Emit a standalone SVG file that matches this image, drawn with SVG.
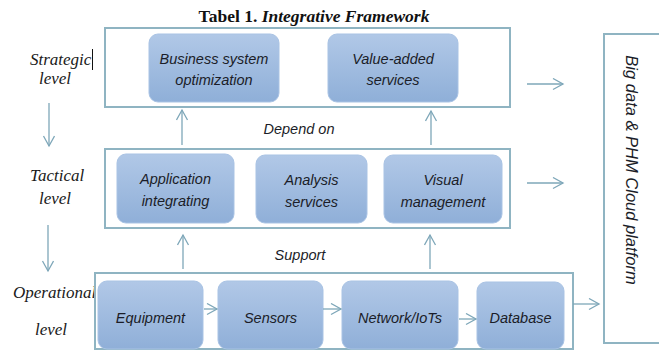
<svg xmlns="http://www.w3.org/2000/svg" width="659" height="351" viewBox="0 0 659 351">
  <defs>
    <linearGradient id="nodeFill" x1="0" y1="0" x2="0" y2="1">
      <stop offset="0" stop-color="#b1c8e7"/>
      <stop offset="1" stop-color="#8fafd8"/>
    </linearGradient>
    <marker id="arrow" markerUnits="userSpaceOnUse" markerWidth="14" markerHeight="14" refX="11" refY="6" orient="auto">
      <path d="M1,0.5 L11,6 L1,11.5" fill="none" stroke="#7ea7b9" stroke-width="1.3"/>
    </marker>
    <style>
      .frame { fill: #ffffff; stroke: #8fb4c2; stroke-width: 2; }
      .node rect { fill: url(#nodeFill); stroke: #a9c3e4; stroke-width: 1; }
      .node text, .tag { font-family: "Liberation Sans", Arial, sans-serif; font-style: italic; font-size: 14.5px; fill: #1b1d28; text-anchor: middle; }
      .tag.vertical { font-size: 16.5px; }
      .level { font-family: "Liberation Serif", "Times New Roman", serif; font-style: italic; font-size: 17px; fill: #1a1a1a; }
      .title { font-family: "Liberation Serif", "Times New Roman", serif; font-weight: bold; font-size: 17.5px; fill: #111111; }
      #connectors line { stroke: #7ea7b9; stroke-width: 1.3; marker-end: url(#arrow); }
    </style>
  </defs>

  <rect width="659" height="351" fill="#ffffff"/>

  <!-- heading -->
  <text class="title" x="314" y="22" text-anchor="middle">Tabel 1. <tspan font-style="italic">Integrative Framework</tspan></text>

  <!-- level labels on the left -->
  <text class="level" x="30" y="65">Strategic</text>
  <line x1="92.5" y1="49" x2="92.5" y2="70" stroke="#111111" stroke-width="1"/>
  <text class="level" x="39" y="84">level</text>
  <text class="level" x="30" y="181">Tactical</text>
  <text class="level" x="39" y="204">level</text>
  <text class="level" x="13" y="298">Operational</text>
  <text class="level" x="35" y="335">level</text>

  <!-- layer frames -->
  <rect id="strategic-layer" class="frame" x="105" y="28" width="405" height="79"/>
  <rect id="tactical-layer" class="frame" x="105" y="149" width="405" height="79"/>
  <rect id="operational-layer" class="frame" x="95" y="273" width="478" height="76"/>

  <g id="cloud-platform">
    <rect class="frame" x="604" y="34" width="70" height="309"/>
    <text class="tag vertical" x="0" y="0" transform="translate(626 170) rotate(90)">Big data &amp; PHM Cloud platform</text>
  </g>

  <!-- strategic nodes -->
  <g id="business-optimization" class="node">
    <rect x="149" y="34" width="130" height="68" rx="9"/>
    <text x="214" y="64">Business system</text>
    <text x="214" y="85">optimization</text>
  </g>
  <g id="value-added-services" class="node">
    <rect x="328" y="34" width="130" height="68" rx="9"/>
    <text x="393" y="64">Value-added</text>
    <text x="393" y="85">services</text>
  </g>

  <!-- tactical nodes -->
  <g id="application-integrating" class="node">
    <rect x="117" y="154" width="117" height="69" rx="9"/>
    <text x="175.5" y="184">Application</text>
    <text x="175.5" y="206">integrating</text>
  </g>
  <g id="analysis-services" class="node">
    <rect x="256" y="155" width="111" height="68" rx="9"/>
    <text x="311.5" y="185">Analysis</text>
    <text x="311.5" y="207">services</text>
  </g>
  <g id="visual-management" class="node">
    <rect x="384" y="155" width="118" height="68" rx="9"/>
    <text x="443" y="185">Visual</text>
    <text x="443" y="207">management</text>
  </g>

  <!-- operational nodes -->
  <g id="equipment" class="node">
    <rect x="98" y="281" width="105" height="68" rx="9"/>
    <text x="150.5" y="323">Equipment</text>
  </g>
  <g id="sensors" class="node">
    <rect x="218" y="281" width="105" height="68" rx="9"/>
    <text x="270.5" y="323">Sensors</text>
  </g>
  <g id="network-iots" class="node">
    <rect x="342" y="281" width="116" height="68" rx="9"/>
    <text x="400" y="323">Network/IoTs</text>
  </g>
  <g id="database" class="node">
    <rect x="477" y="282" width="87" height="67" rx="9"/>
    <text x="520.5" y="323">Database</text>
  </g>

  <!-- relation labels -->
  <text class="tag" x="299" y="134">Depend on</text>
  <text class="tag" x="300" y="260">Support</text>

  <g id="connectors">
    <line x1="49" y1="103" x2="49" y2="146"/>
    <line x1="48" y1="225" x2="48" y2="271"/>
    <line x1="182" y1="145" x2="182" y2="110"/>
    <line x1="431" y1="145" x2="431" y2="111"/>
    <line x1="183" y1="269" x2="183" y2="235"/>
    <line x1="430" y1="269" x2="430" y2="235"/>
    <line x1="527" y1="84" x2="563" y2="84"/>
    <line x1="527" y1="183" x2="563" y2="183"/>
    <line x1="573" y1="304" x2="599" y2="304"/>
    <line x1="204" y1="309" x2="217" y2="309"/>
    <line x1="323" y1="309" x2="341" y2="309"/>
    <line x1="459" y1="319" x2="476" y2="319"/>
  </g>
</svg>
